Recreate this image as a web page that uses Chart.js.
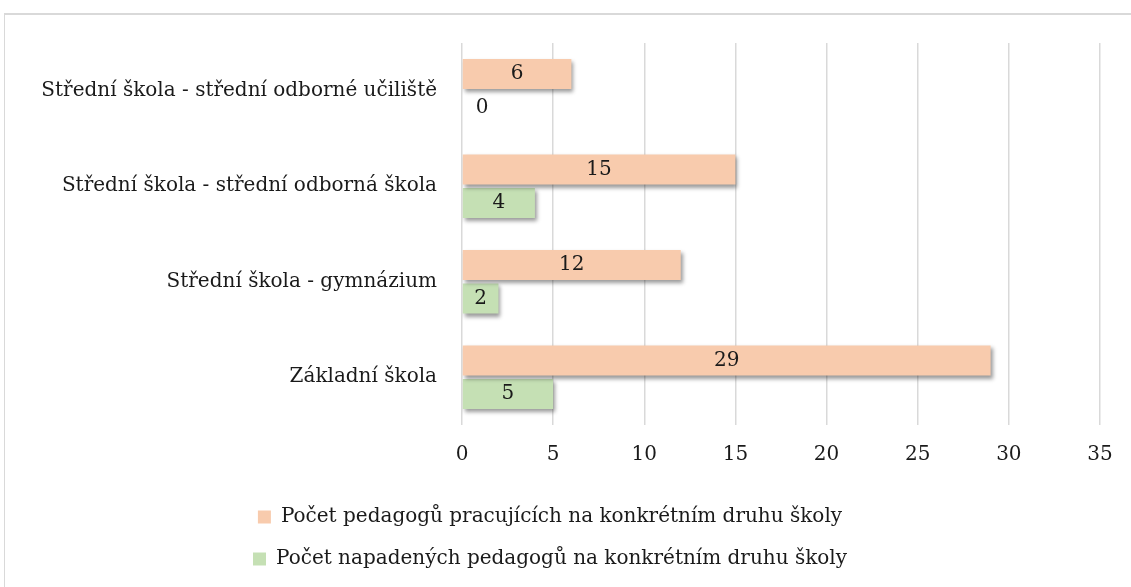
<!DOCTYPE html>
<html>
<head>
<meta charset="utf-8">
<script src="https://cdn.jsdelivr.net/npm/chart.js@4.4.0/dist/chart.umd.min.js"></script>
<style>
body { margin: 0; background: #fff; overflow: hidden; }
#frame { position: absolute; left: 4px; top: 13px; width: 1300px; height: 700px;
         border-top: 2px solid #d9d9d9; border-left: 1px solid #d9d9d9; }
#myChart { position: absolute; left: 0; top: 0; }
</style>
</head>
<body>
<div id="frame"></div>
<canvas id="myChart" width="1131" height="587"></canvas>
<script>
var categories = [
    "Střední škola - střední odborné učiliště",
    "Střední škola - střední odborná škola",
    "Střední škola - gymnázium",
    "Základní škola"
];
var seriesNames = [
    "Počet pedagogů pracujících na konkrétním druhu školy",
    "Počet napadených pedagogů na konkrétním druhu školy"
];
var pracujici = [6, 15, 12, 29];
var napadeni = [0, 4, 2, 5];
var xMin = 0, xMax = 35, xStep = 5;

var fontFamily = '"DejaVu Serif", "Liberation Serif", serif';
var fontSize = 20;
var textColor = '#1a1a1a';

// soft drop shadow under the bars, like the office chart
var barShadow = {
    id: 'barShadow',
    beforeDatasetsDraw: function(chart) {
        var c = chart.ctx;
        c.save();
        c.shadowColor = 'rgba(0,0,0,0.4)';
        c.shadowBlur = 4;
        c.shadowOffsetX = 2;
        c.shadowOffsetY = 3;
    },
    afterDatasetsDraw: function(chart) {
        chart.ctx.restore();
    }
};

// value labels in the middle of each bar
var barLabels = {
    id: 'barLabels',
    afterDatasetsDraw: function(chart) {
        var c = chart.ctx;
        c.save();
        c.font = fontSize + 'px ' + fontFamily;
        c.fillStyle = textColor;
        c.textAlign = 'center';
        c.textBaseline = 'middle';
        chart.data.datasets.forEach(function(ds, i) {
            chart.getDatasetMeta(i).data.forEach(function(bar, j) {
                var v = ds.data[j];
                var x = v === 0 ? bar.base + 20 : (bar.x + bar.base) / 2;
                c.fillText(String(v), x, bar.y);
            });
        });
        c.restore();
    }
};

var ctx = document.getElementById('myChart').getContext('2d');
var myChart = new Chart(ctx, {
    type: 'bar',
    data: {
        labels: categories,
        datasets: [{
            label: seriesNames[0],
            data: pracujici,
            backgroundColor: '#f8cbad'
        }, {
            label: seriesNames[1],
            data: napadeni,
            backgroundColor: '#c5e0b4'
        }]
    },
    options: {
        indexAxis: 'y',
        responsive: false,
        animation: false,
        devicePixelRatio: 1,
        categoryPercentage: 0.7,
        barPercentage: 0.9,
        layout: { padding: { top: 43, right: 31, left: 0, bottom: 8 } },
        scales: {
            x: {
                min: xMin,
                max: xMax,
                ticks: { stepSize: xStep, color: textColor, padding: 18,
                         font: { family: fontFamily, size: fontSize } },
                grid: { color: '#d9d9d9', lineWidth: 1.5, drawTicks: false },
                border: { display: false }
            },
            y: {
                ticks: { color: textColor, padding: 25,
                         font: { family: fontFamily, size: fontSize } },
                grid: { display: false, drawTicks: false },
                border: { display: false },
                afterFit: function(scale) { scale.width = 462; }
            }
        },
        plugins: {
            legend: {
                position: 'bottom',
                labels: {
                    boxWidth: 13,
                    boxHeight: 13,
                    padding: 22,
                    color: textColor,
                    font: { family: fontFamily, size: fontSize }
                }
            },
            tooltip: { enabled: false }
        }
    },
    plugins: [barShadow, barLabels]
});
</script>
</body>
</html>
